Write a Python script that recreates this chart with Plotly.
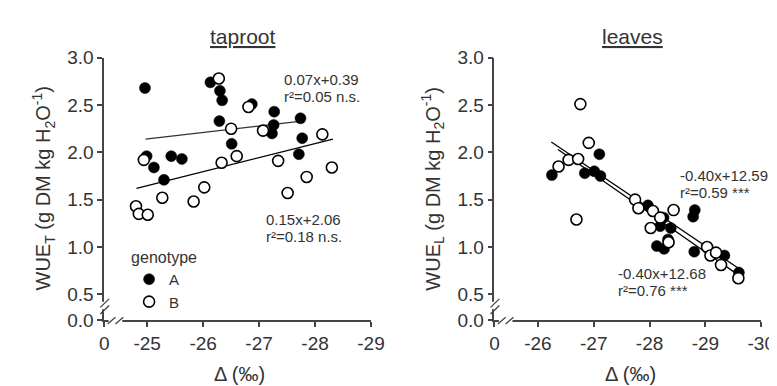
import plotly.graph_objects as go

W, H = 777, 386

# ---------------- data ----------------
# taproot panel
tap_A_x = [-24.96, -26.13, -26.30, -26.34, -26.29, -26.87, -27.27, -27.26, -27.23,
           -27.74, -27.77, -27.71, -26.51, -24.99, -25.12, -25.43, -25.62, -25.30]
tap_A_y = [2.68, 2.74, 2.65, 2.55, 2.33, 2.51, 2.43, 2.29, 2.20,
           2.36, 2.15, 1.98, 2.09, 1.96, 1.84, 1.96, 1.93, 1.71]
tap_B_x = [-26.28, -26.81, -26.50, -27.07, -28.13, -26.60, -26.33, -27.34, -28.30,
           -27.85, -26.02, -25.27, -25.83, -27.51, -24.94, -24.80, -24.85, -25.01]
tap_B_y = [2.78, 2.48, 2.25, 2.23, 2.19, 1.96, 1.89, 1.91, 1.84,
           1.74, 1.63, 1.52, 1.48, 1.57, 1.92, 1.43, 1.35, 1.34]
tap_fitA_x = [-24.97, -27.76]
tap_fitA_y = [2.14, 2.33]
tap_fitB_x = [-24.81, -28.32]
tap_fitB_y = [1.62, 2.14]

# leaves panel
leaf_A_x = [-26.25, -26.84, -27.01, -27.10, -27.12, -27.97, -28.25, -28.19, -28.38,
            -28.13, -28.26, -28.33, -28.78, -28.81, -28.80, -29.34, -29.60]
leaf_A_y = [1.76, 1.78, 1.80, 1.98, 1.75, 1.44, 1.31, 1.22, 1.20,
            1.01, 0.98, 1.08, 1.32, 1.39, 0.95, 0.91, 0.73]
leaf_B_x = [-26.76, -26.91, -26.69, -26.37, -26.55, -26.72, -27.74, -27.80, -28.06,
            -28.19, -28.02, -28.43, -28.34, -29.03, -29.09, -29.19, -29.28, -29.59]
leaf_B_y = [2.51, 2.10, 1.29, 1.85, 1.92, 1.93, 1.50, 1.41, 1.38,
            1.31, 1.20, 1.39, 1.05, 1.00, 0.91, 0.94, 0.81, 0.67]
leaf_fitA_x = [-26.24, -29.63]
leaf_fitA_y = [2.11, 0.76]
leaf_fitB_x = [-26.36, -29.60]
leaf_fitB_y = [2.03, 0.70]

y_ticks = [0.5, 1.0, 1.5, 2.0, 2.5, 3.0]
y_ticklabels = ["0.5", "1.0", "1.5", "2.0", "2.5", "3.0"]
y_zero_pos = 0.227          # broken axis: position where "0.0" is shown
tap_x_ticks = [-25, -26, -27, -28, -29]
tap_x_zero_pos = -24.232
leaf_x_ticks = [-26, -27, -28, -29, -30]
leaf_x_zero_pos = -25.221

# ---------------- layout helpers ----------------
def fx(px):
    return px / W

def fy(py):
    return 1 - py / H

FONT = "Liberation Sans, Arial, sans-serif"
AX_COL = "#444444"
TXT_COL = "#333333"

fig = go.Figure()

def add_points(xs, ys, filled, xa, ya, name, show):
    fig.add_trace(go.Scatter(
        x=xs, y=ys, mode="markers", name=name, showlegend=show,
        xaxis=xa, yaxis=ya,
        marker=dict(size=11, symbol="circle",
                    color="black" if filled else "white",
                    line=dict(color="black", width=1.6 if not filled else 0.5))))

def add_line(xs, ys, xa, ya, color="black", width=1.3):
    fig.add_trace(go.Scatter(x=xs, y=ys, mode="lines", showlegend=False,
                             xaxis=xa, yaxis=ya, hoverinfo="skip",
                             line=dict(color=color, width=width)))

# taproot
add_line(tap_fitA_x, tap_fitA_y, "x", "y", color="#333333")
add_line(tap_fitB_x, tap_fitB_y, "x", "y")
add_points(tap_A_x, tap_A_y, True, "x", "y", "A", True)
add_points(tap_B_x, tap_B_y, False, "x", "y", "B", True)
# leaves
add_line(leaf_fitA_x, leaf_fitA_y, "x2", "y2")
add_line(leaf_fitB_x, leaf_fitB_y, "x2", "y2")
add_points(leaf_A_x, leaf_A_y, True, "x2", "y2", "A", False)
add_points(leaf_B_x, leaf_B_y, False, "x2", "y2", "B", False)

common_ax = dict(showline=True, linecolor=AX_COL, linewidth=1.5, ticks="outside",
                 ticklen=5, tickwidth=1.5, tickcolor=AX_COL, showgrid=False,
                 zeroline=False, tickfont=dict(family=FONT, size=19, color=TXT_COL))

ydom = [fy(319.5), fy(42)]
fig.update_layout(
    width=W, height=H, margin=dict(l=0, r=0, t=0, b=0),
    plot_bgcolor="white", paper_bgcolor="white",
    xaxis=dict(domain=[fx(93.5), fx(367)], anchor="y",
               range=[tap_x_zero_pos, -29],
               tickvals=[tap_x_zero_pos] + tap_x_ticks,
               ticktext=["0"] + [str(v) for v in tap_x_ticks], **common_ax),
    yaxis=dict(domain=ydom, anchor="x", range=[y_zero_pos, 3.0],
               tickvals=[y_zero_pos] + y_ticks,
               ticktext=["0.0"] + y_ticklabels, **common_ax),
    xaxis2=dict(domain=[fx(493.5), fx(767)], anchor="y2",
                range=[leaf_x_zero_pos, -30],
                tickvals=[leaf_x_zero_pos] + leaf_x_ticks,
                ticktext=["0"] + [str(v) for v in leaf_x_ticks], **common_ax),
    yaxis2=dict(domain=ydom, anchor="x2", range=[y_zero_pos, 3.0],
                tickvals=[y_zero_pos] + y_ticks,
                ticktext=["0.0"] + y_ticklabels, **common_ax),
    legend=dict(x=fx(119), y=fy(237), xanchor="left", yanchor="top",
                bgcolor="rgba(0,0,0,0)", tracegroupgap=0,
                title=dict(text="genotype", font=dict(family=FONT, size=16, color=TXT_COL)),
                font=dict(family=FONT, size=15, color=TXT_COL), itemwidth=30),
)

# broken-axis marks
shapes = []
for off in (0, 400):
    # gap in y-axis
    shapes.append(dict(type="rect", xref="paper", yref="paper",
                       x0=fx(91 + off), x1=fx(96 + off), y0=fy(308), y1=fy(300),
                       fillcolor="white", line=dict(width=0), layer="above"))
    # gap in x-axis
    shapes.append(dict(type="rect", xref="paper", yref="paper",
                       x0=fx(98 + off), x1=fx(112 + off), y0=fy(322), y1=fy(317.5),
                       fillcolor="white", line=dict(width=0), layer="above"))
    for (x0, y0, x1, y1) in [(89.5, 306, 98.5, 297), (89.5, 313, 98.5, 304),
                             (97, 323.5, 105, 316.5), (105, 323.5, 113, 316.5)]:
        shapes.append(dict(type="line", xref="paper", yref="paper",
                           x0=fx(x0 + off), y0=fy(y0), x1=fx(x1 + off), y1=fy(y1),
                           line=dict(color=AX_COL, width=1.3), layer="above"))
fig.update_layout(shapes=shapes)

def ann(text, px, py, size=14, xanchor="left", angle=0, yanchor="middle"):
    fig.add_annotation(text=text, xref="paper", yref="paper", x=fx(px), y=fy(py),
                       xanchor=xanchor, yanchor=yanchor, showarrow=False, textangle=angle,
                       font=dict(family=FONT, size=size, color=TXT_COL))

ann("<u>taproot</u>", 236, 20, size=21, xanchor="center")
ann("<u>leaves</u>", 635, 20, size=21, xanchor="center")
ann("0.07x+0.39", 276, 65, size=15)
ann("r²=0.05 n.s.", 276, 83, size=15)
ann("0.15x+2.06", 257, 213, size=15)
ann("r²=0.18 n.s.", 257, 231, size=15)
ann("-0.40x+12.59", 682, 167, size=15)
ann("r²=0.59 ***", 682, 185, size=15)
ann("-0.40x+12.68", 618, 270, size=15)
ann("r²=0.76 ***", 618, 288, size=15)
ann("WUE<sub>T</sub> (g DM kg H<sub>2</sub>O<sup>-1</sup>)", 31, 180, size=20,
    xanchor="center", angle=-90)
ann("WUE<sub>L</sub> (g DM kg H<sub>2</sub>O<sup>-1</sup>)", 430, 180, size=20,
    xanchor="center", angle=-90)
ann("Δ (‰)", 232, 377, size=20, xanchor="center")
ann("Δ (‰)", 633, 377, size=20, xanchor="center")

fig.write_html("out.html")
